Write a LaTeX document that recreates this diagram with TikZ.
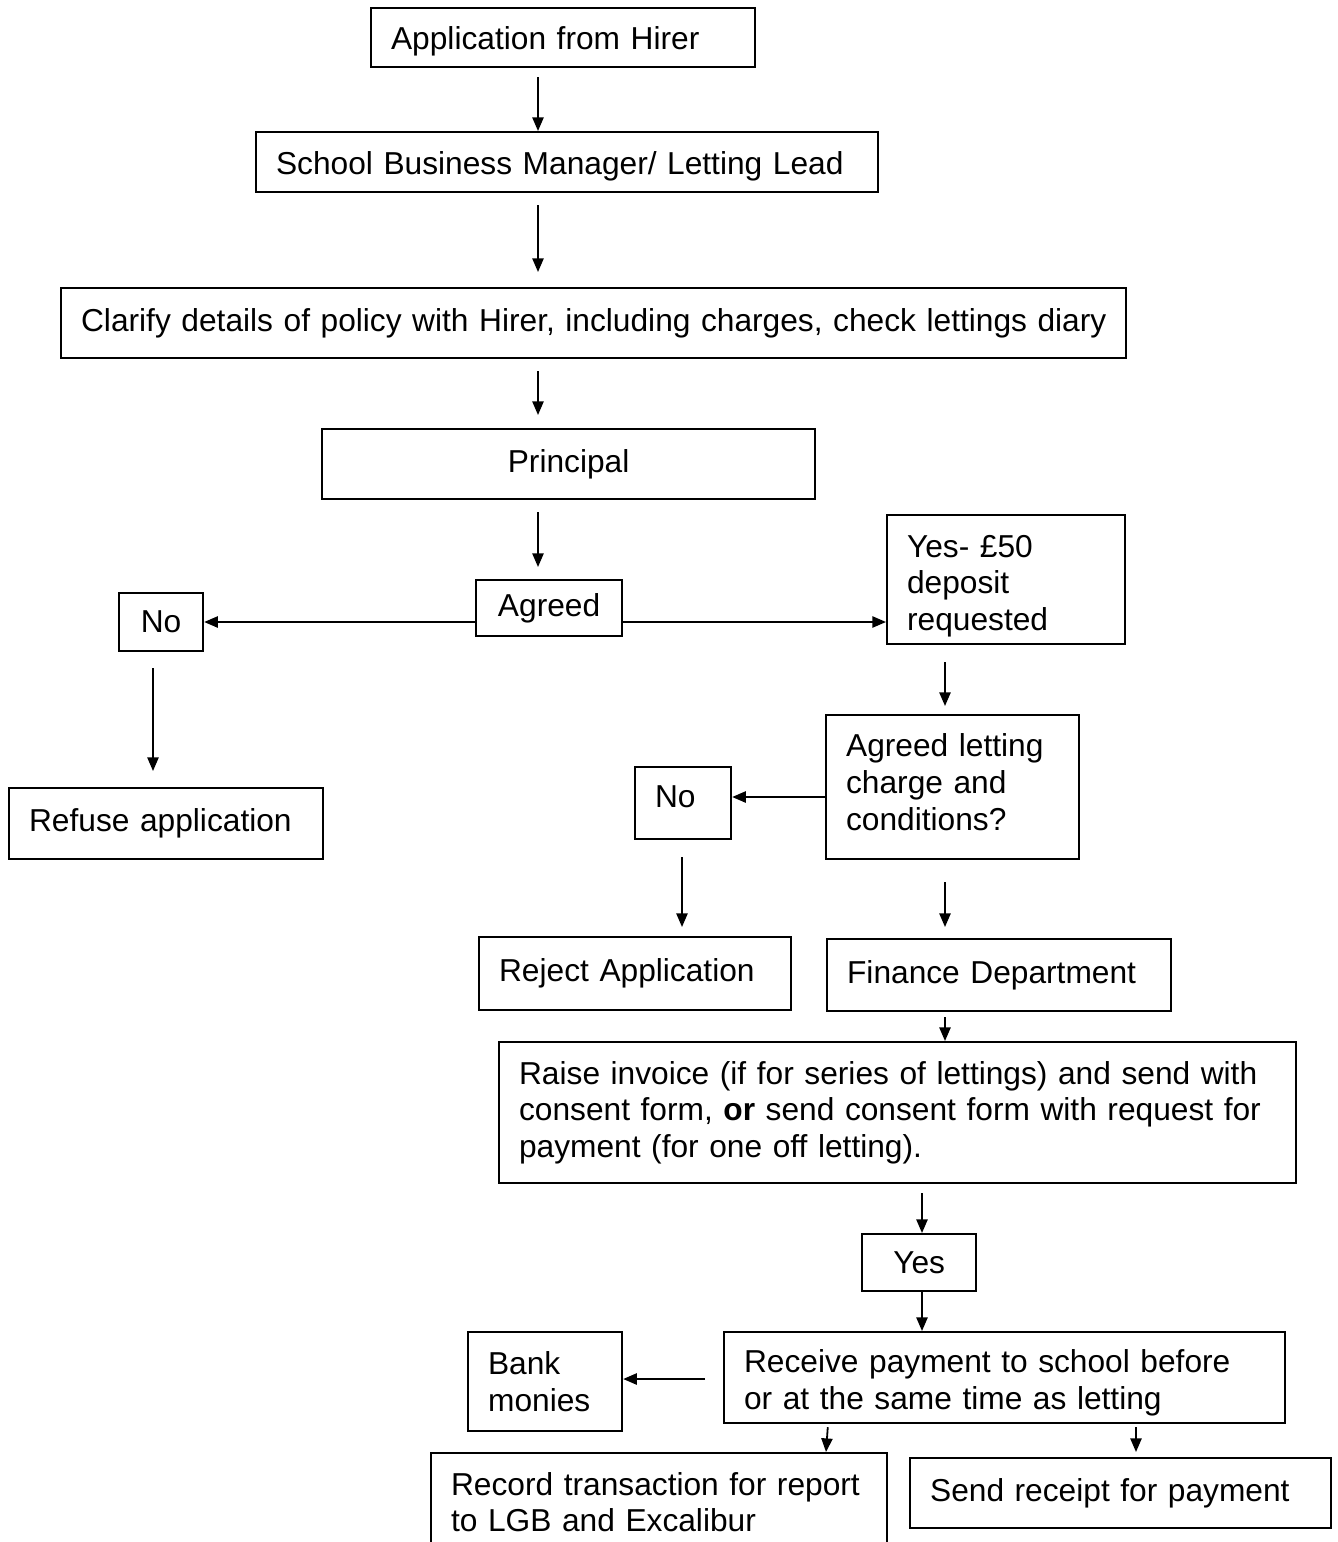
\documentclass[tikz,border=0pt]{standalone}
\usepackage{fontspec}
\setmainfont{Liberation Sans}
\usetikzlibrary{arrows.meta}
\newcommand\myTop[1]{\rule{0pt}{#1}}
\newcommand\myBot[1]{\rule[-#1]{0pt}{#1}}
\begin{document}
\begin{tikzpicture}[x=0.5pt,y=-0.5pt,
  every node/.style={font=\fontsize{15.85pt}{18.3pt}\selectfont},
  box/.style={draw, line width=1.1pt, anchor=north west, inner xsep=10pt, inner ysep=0pt, align=left},
  cbox/.style={draw, line width=1.1pt, anchor=north west, inner sep=0pt, align=center},
  arr/.style={-{Triangle[length=6.8pt,width=5.6pt]}, line width=0.9pt}]
\path[use as bounding box, fill=white] (0,0) rectangle (1338,1542);

% boxes
\node[box, text width=172pt, minimum height=29.5pt] (app) at (370,7) {\myTop{15.6pt}Application from Hirer};
\node[box, text width=291pt, minimum height=30pt] (sbm) at (255,131) {\myTop{15.6pt}School Business Manager/ Letting Lead};
\node[box, text width=512.5pt, minimum height=35pt] (clar) at (60,287) {\mbox{Clarify details of policy with Hirer, including charges, check lettings diary}};
\node[cbox, minimum width=246.5pt, minimum height=35pt] (prin) at (321,428) {Principal};
\node[cbox, minimum width=73pt, minimum height=28pt] (agreed) at (475,579) {Agreed};
\node[cbox, minimum width=42pt, minimum height=29pt] (no1) at (118,592) {No};
\node[box, text width=99pt, minimum height=64.5pt] (yes50) at (886,514) {\myTop{17.6pt}Yes- £50\\deposit\\requested};
\node[box, text width=137pt, minimum height=35.5pt] (refuse) at (8,787) {\myBot{2.5pt}Refuse application};
\node[box, text width=106.5pt, minimum height=72pt] (al) at (825,714) {Agreed letting\\charge and\\conditions?\myBot{5pt}};
\node[box, text width=28pt, minimum height=36pt] (no2) at (634,766) {No\myBot{7pt}};
\node[box, text width=136pt, minimum height=36.5pt] (reject) at (478,936) {\mbox{Reject Application}\myBot{3.5pt}};
\node[box, text width=152pt, minimum height=36pt] (finance) at (826,938) {\mbox{Finance Department}\myBot{3.5pt}};
\node[box, text width=378.5pt, minimum height=70.5pt] (raise) at (498,1041) {\mbox{Raise invoice (if for series of lettings) and send with}\\\mbox{consent form, \textbf{or} send consent form with request for}\\payment (for one off letting).};
\node[cbox, minimum width=57pt, minimum height=28.5pt] (yes) at (861,1233) {Yes};
\node[box, text width=57pt, minimum height=49.5pt] (bank) at (467,1331) {Bank\\monies};
\node[box, text width=260.5pt, minimum height=45.5pt] (receive) at (723,1331) {\myTop{16.6pt}\mbox{Receive payment to school before}\\or at the same time as letting};
\node[box, text width=208pt, minimum height=49pt] (record) at (430,1452) {\mbox{Record transaction for report}\\to LGB and Excalibur};
\node[box, text width=190.5pt, minimum height=35pt] (receipt) at (909,1457) {\mbox{Send receipt for payment}\myBot{3pt}};

% guide coordinates
\coordinate (k538) at (538,0);
\coordinate (k153) at (153,0);
\coordinate (k945) at (945,0);
\coordinate (k682) at (682,0);
\coordinate (k922) at (922,0);
\coordinate (k828) at (828,0);
\coordinate (k826) at (826,0);
\coordinate (k1136) at (1136,0);
\coordinate (r622) at (0,622);
\coordinate (r797) at (0,797);
\coordinate (r1379) at (0,1379);

% connectors
\draw[arr, shorten <=4.5pt] (app.south -| k538) -- (sbm.north -| k538);
\draw[arr, shorten <=6pt, shorten >=7.5pt] (sbm.south -| k538) -- (clar.north -| k538);
\draw[arr, shorten <=6pt, shorten >=6.5pt] (clar.south -| k538) -- (prin.north -| k538);
\draw[arr, shorten <=6pt, shorten >=6pt] (prin.south -| k538) -- (agreed.north -| k538);
\draw[arr] (agreed.west |- r622) -- (no1.east |- r622);
\draw[arr] (agreed.east |- r622) -- (yes50.west |- r622);
\draw[arr, shorten <=8pt, shorten >=8pt] (no1.south -| k153) -- (refuse.north -| k153);
\draw[arr, shorten <=8.5pt, shorten >=4pt] (yes50.south -| k945) -- (al.north -| k945);
\draw[arr] (al.west |- r797) -- (no2.east |- r797);
\draw[arr, shorten <=8.5pt, shorten >=4.5pt] (no2.south -| k682) -- (reject.north -| k682);
\draw[arr, shorten <=11pt, shorten >=5.5pt] (al.south -| k945) -- (finance.north -| k945);
\draw[arr, shorten <=2.5pt] (finance.south -| k945) -- (raise.north -| k945);
\draw[arr, shorten <=4.5pt] (raise.south -| k922) -- (yes.north -| k922);
\draw[arr] (yes.south -| k922) -- (receive.north -| k922);
\draw[arr, shorten <=9pt] (receive.west |- r1379) -- (bank.east |- r1379);
\draw[arr, shorten <=1.5pt] (receive.south -| k828) -- (record.north -| k826);
\draw[arr, shorten <=1.5pt, shorten >=2.5pt] (receive.south -| k1136) -- (receipt.north -| k1136);
\end{tikzpicture}
\end{document}
